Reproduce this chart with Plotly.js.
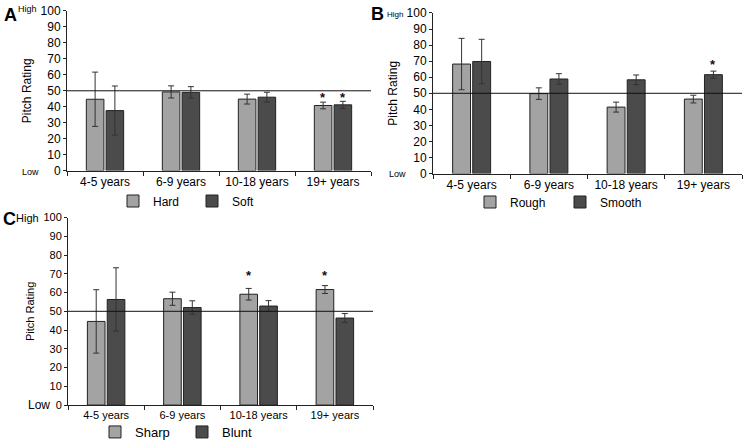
<!DOCTYPE html>
<html>
<head>
<meta charset="utf-8">
<script src="https://cdn.plot.ly/plotly-3.0.1.min.js"></script>
<style>html,body{margin:0;padding:0;background:#fff;}#chart{width:747px;height:447px;}</style>
</head>
<body>
<div id="chart"></div>
<script>
const categories = ['4-5 years', '6-9 years', '10-18 years', '19+ years'];

const hardVals = [44.7, 49.3, 44.8, 40.8];
const hardErr  = [17, 3.8, 3.1, 2.1];
const softVals = [37.6, 49, 46, 41.2];
const softErr  = [15.4, 3.6, 3.1, 2.2];

const roughVals  = [68.2, 49.8, 41.4, 46.4];
const roughErr   = [16, 3.6, 3.1, 2.4];
const smoothVals = [69.8, 58.9, 58.4, 61.6];
const smoothErr  = [13.8, 3.3, 3, 2.2];

const sharpVals = [44.6, 56.7, 59.1, 61.6];
const sharpErr  = [16.9, 3.5, 3.1, 2.1];
const bluntVals = [56.3, 52, 52.8, 46.4];
const bluntErr  = [16.9, 3.6, 2.9, 2.4];

const refLine = 50;
const yTicks = [0, 10, 20, 30, 40, 50, 60, 70, 80, 90, 100];

const LIGHT = '#a3a3a3';
const DARK = '#4b4b4b';
const FONT = 'Liberation Sans, Arial, sans-serif';

function barTrace(name, vals, errs, color, xa, ya, leg) {
  return {
    type: 'bar', name: name, x: categories, y: vals,
    xaxis: xa, yaxis: ya, legend: leg,
    marker: {color: color, line: {color: '#222', width: 1}},
    error_y: {type: 'data', array: errs, visible: true, color: '#333', thickness: 1, width: 3}
  };
}

const data = [
  barTrace('Hard', hardVals, hardErr, LIGHT, 'x', 'y', 'legend'),
  barTrace('Soft', softVals, softErr, DARK, 'x', 'y', 'legend'),
  barTrace('Rough', roughVals, roughErr, LIGHT, 'x2', 'y2', 'legend2'),
  barTrace('Smooth', smoothVals, smoothErr, DARK, 'x2', 'y2', 'legend2'),
  barTrace('Sharp', sharpVals, sharpErr, LIGHT, 'x3', 'y3', 'legend3'),
  barTrace('Blunt', bluntVals, bluntErr, DARK, 'x3', 'y3', 'legend3')
];

function xAxis(dom, anchor, fs) {
  return {
    domain: dom, anchor: anchor, type: 'category',
    showline: true, linecolor: '#222', linewidth: 1,
    ticks: 'outside', tickson: 'boundaries', ticklen: 4, tickcolor: '#222',
    showgrid: false, zeroline: false,
    tickfont: {family: FONT, size: fs, color: '#000'}
  };
}
function yAxis(dom, anchor, fs, tfs) {
  return {
    domain: dom, anchor: anchor, range: [0, 100],
    tickvals: yTicks, ticktext: yTicks.map(String),
    showline: true, linecolor: '#222', linewidth: 1,
    ticks: 'outside', ticklen: 3, tickcolor: '#222',
    showgrid: false, zeroline: false,
    tickfont: {family: FONT, size: fs, color: '#000'},
    title: {text: 'Pitch Rating', font: {family: FONT, size: tfs, color: '#000'}, standoff: 6}
  };
}

function refShape(xa, ya) {
  return {type: 'line', xref: xa + ' domain', yref: ya, x0: 0, x1: 1, y0: refLine, y1: refLine,
          line: {color: '#111', width: 1}};
}

function txt(x, y, s, size, bold) {
  return {xref: 'paper', yref: 'paper', x: x, y: y, text: bold ? '<b>' + s + '</b>' : s,
          showarrow: false, xanchor: 'left', yanchor: 'middle',
          font: {family: FONT, size: size, color: '#000'}};
}
function star(xa, ya, cat, y, shift) {
  return {xref: xa, yref: ya, x: cat, y: y, text: '<b>*</b>', showarrow: false, xshift: shift,
          yanchor: 'middle', font: {family: FONT, size: 13, color: '#111'}};
}

const W = 747, H = 447;
const px = v => v / W;
const py = v => 1 - v / H;

function leg(x, y, fs, ew) {
  return {orientation: 'h', x: px(x), y: py(y), xanchor: 'center', yanchor: 'middle',
          font: {family: FONT, size: fs, color: '#000'}, itemwidth: 30,
          entrywidth: ew, entrywidthmode: 'pixels', bgcolor: 'rgba(0,0,0,0)'};
}

const layout = {
  width: W, height: H,
  margin: {l: 0, r: 0, t: 0, b: 0},
  paper_bgcolor: '#fff', plot_bgcolor: '#fff',
  barmode: 'group', bargap: 0.48, bargroupgap: 0.11,
  font: {family: FONT, color: '#000'},
  xaxis: xAxis([px(67), px(371)], 'y', 12),
  yaxis: yAxis([py(171), py(11)], 'x', 12, 12),
  xaxis2: xAxis([px(433), px(742)], 'y2', 12),
  yaxis2: yAxis([py(174), py(13)], 'x2', 12, 12),
  xaxis3: xAxis([px(68), px(373)], 'y3', 11),
  yaxis3: yAxis([py(406), py(218)], 'x3', 11, 11),
  legend: leg(192, 201, 12, 34),
  legend2: leg(560, 202, 12, 45),
  legend3: leg(182, 433, 13, 42),
  shapes: [refShape('x', 'y'), refShape('x2', 'y2'), refShape('x3', 'y3')],
  annotations: [
    txt(px(2), py(15), 'A', 18, true),
    txt(px(16), py(9), 'High', 9, false),
    txt(px(20), py(172), 'Low', 9, false),
    txt(px(369), py(14), 'B', 18, true),
    txt(px(385), py(15), 'High', 8, false),
    txt(px(387), py(174), 'Low', 9, false),
    txt(px(1), py(219), 'C', 18, true),
    txt(px(14), py(218), 'High', 11, false),
    txt(px(26), py(406), 'Low', 12, false),
    star('x', 'y', '19+ years', 45.5, -10),
    star('x', 'y', '19+ years', 45.5, 10),
    star('x2', 'y2', '19+ years', 68, 10),
    star('x3', 'y3', '10-18 years', 69, -10),
    star('x3', 'y3', '19+ years', 69, -10)
  ]
};

Plotly.newPlot('chart', data, layout, {displayModeBar: false, staticPlot: true});
</script>
</body>
</html>
